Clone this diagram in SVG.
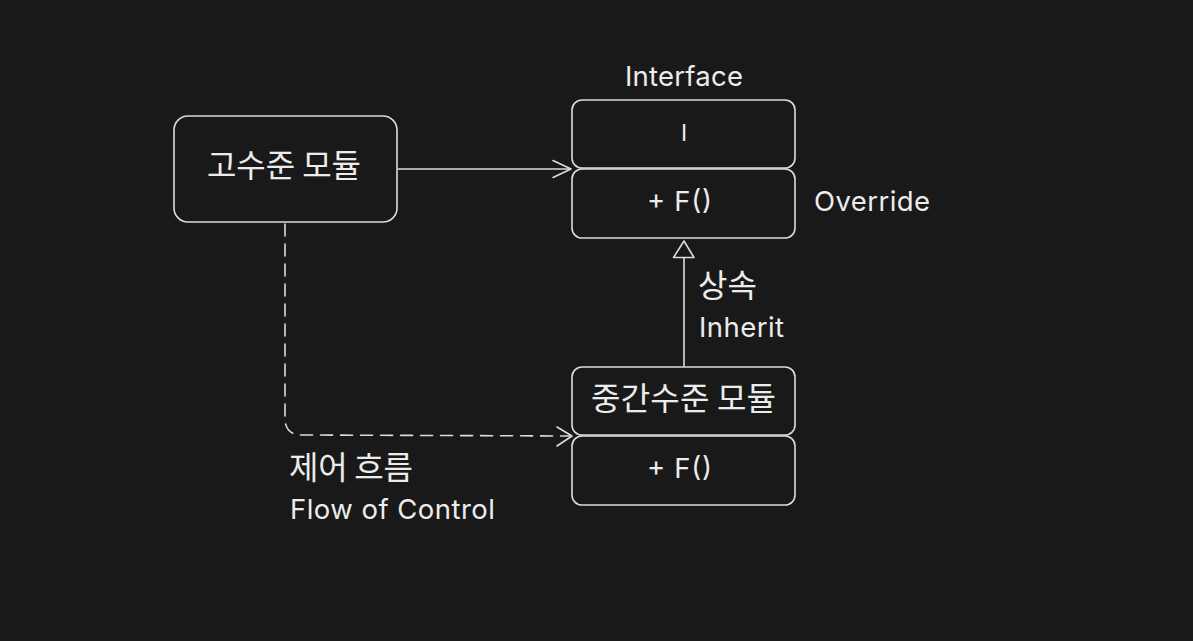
<svg xmlns="http://www.w3.org/2000/svg" width="1193" height="641" viewBox="0 0 1193 641">
  <style>
    .box { fill: #191919; stroke: #dcdcdc; stroke-width: 1.6; }
    .line { fill: none; stroke: #dcdcdc; stroke-width: 1.6; stroke-linecap: round; stroke-linejoin: round; }
    .ko { font-family: "Noto Sans CJK KR", "Noto Sans", sans-serif; font-size: 32px; fill: #ececec; }
    .en { font-family: Inter, "Liberation Sans", Arial, sans-serif; font-size: 27.5px; fill: #ececec; }
  </style>
  <rect x="0" y="0" width="1193" height="641" fill="#191919"/>

  <g id="connectors">
    <path class="line" d="M398 169 L570 169"/>
    <path class="line" d="M553 160.5 L571 169 L553 177.5"/>
    <path class="line" d="M285 224 L285 418 Q285 435 302 435 L570 436" stroke-dasharray="12 8"/>
    <path class="line" d="M557 427 L572 436 L557 446"/>
    <path class="line" d="M684 366 L684 258"/>
    <path class="line" d="M684 241 L673.5 257.5 L694 257.5 Z"/>
  </g>

  <g id="high-module">
    <rect class="box" x="174" y="116" width="223" height="106" rx="14"/>
    <text class="ko" x="207" y="177" textLength="154">고수준 모듈</text>
  </g>

  <g id="interface">
    <text class="en" x="625" y="86" textLength="118">Interface</text>
    <rect class="box" x="572" y="100" width="223" height="68" rx="10"/>
    <text class="en" x="684" y="141" text-anchor="middle" style="font-size:23px">I</text>
  </g>

  <g id="interface-method">
    <rect class="box" x="572" y="169" width="223" height="69" rx="10"/>
    <text class="en" x="647" y="211" textLength="65">+ F()</text>
    <text class="en" x="814" y="211" textLength="116">Override</text>
  </g>

  <g id="inherit-label">
    <text class="ko" x="698" y="297" textLength="59">상속</text>
    <text class="en" x="699" y="337" textLength="85">Inherit</text>
  </g>

  <g id="mid-module">
    <rect class="box" x="572" y="367" width="223" height="68" rx="10"/>
    <text class="ko" x="591" y="410" textLength="185">중간수준 모듈</text>
  </g>

  <g id="mid-method">
    <rect class="box" x="572" y="436" width="223" height="69" rx="10"/>
    <text class="en" x="647" y="478" textLength="65">+ F()</text>
  </g>

  <g id="flow-label">
    <text class="ko" x="289" y="479" textLength="124">제어 흐름</text>
    <text class="en" x="290" y="519" textLength="205">Flow of Control</text>
  </g>
</svg>
